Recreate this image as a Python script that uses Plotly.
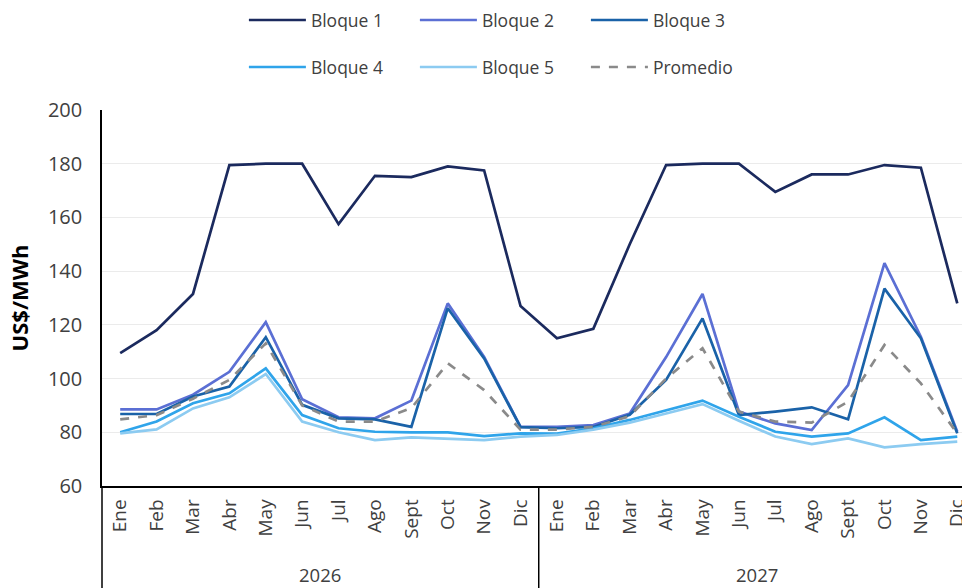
import plotly.graph_objects as go

# Monthly marginal cost projection by demand block, 2026-2027 (US$/MWh)
years = ["2026", "2027"]
months = ["Ene", "Feb", "Mar", "Abr", "May", "Jun", "Jul", "Ago", "Sept", "Oct", "Nov", "Dic"]

bloque_1 = [109.5, 118.0, 131.5, 179.5, 180.0, 180.0, 157.5, 175.5, 175.0, 179.0, 177.5, 127.0,
            115.0, 118.5, 150.0, 179.5, 180.0, 180.0, 169.5, 176.0, 176.0, 179.5, 178.5, 128.0]
bloque_2 = [88.5, 88.5, 94.0, 102.5, 121.0, 92.3, 85.6, 85.2, 91.8, 128.0, 108.1, 82.0,
            82.0, 82.7, 87.0, 108.0, 131.5, 87.7, 83.3, 80.8, 97.6, 143.0, 115.6, 80.2]
bloque_3 = [86.8, 86.8, 93.3, 97.0, 115.4, 90.2, 85.2, 84.8, 82.0, 126.2, 107.5, 81.9,
            81.5, 82.0, 86.5, 99.5, 122.4, 86.4, 87.7, 89.3, 84.8, 133.5, 115.0, 79.6]
bloque_4 = [80.0, 84.0, 90.8, 94.5, 103.8, 86.4, 81.5, 80.2, 80.0, 80.0, 78.6, 79.6,
            79.5, 81.5, 84.6, 88.3, 91.8, 85.8, 80.2, 78.4, 79.6, 85.6, 77.1, 78.4]
bloque_5 = [79.6, 81.1, 88.9, 93.0, 101.7, 84.0, 80.0, 77.1, 78.1, 77.7, 77.1, 78.4,
            79.0, 81.0, 83.6, 87.0, 90.5, 84.3, 78.4, 75.6, 77.7, 74.4, 75.6, 76.5]
promedio = [84.8, 86.4, 92.5, 99.5, 113.1, 90.0, 84.0, 84.0, 89.0, 105.7, 95.7, 81.0,
            81.0, 82.0, 86.0, 100.0, 111.3, 87.7, 84.0, 83.6, 91.4, 112.5, 98.2, 79.6]

series = [
    ("Bloque 1", bloque_1, "#1b2a5e", "solid", "legend"),
    ("Bloque 2", bloque_2, "#5b6fd4", "solid", "legend"),
    ("Bloque 3", bloque_3, "#1a62a8", "solid", "legend"),
    ("Bloque 4", bloque_4, "#2fa4ea", "solid", "legend2"),
    ("Bloque 5", bloque_5, "#8ccbf1", "solid", "legend2"),
    ("Promedio", promedio, "#8a8a8a", "dash", "legend2"),
]

n = len(years) * len(months)
idx = list(range(n))
tick_text = months * len(years)

FONT = "Open Sans, Noto Sans, sans-serif"
TXT = "#404040"

fig = go.Figure()
for name, vals, color, dash, leg in series:
    fig.add_trace(go.Scatter(
        x=idx, y=vals, name=name, mode="lines",
        line=dict(color=color, width=2.7, dash=dash),
        legend=leg,
    ))

x_min, x_max = -0.5, 23.13
span = x_max - x_min

# year group separators below the category axis
shapes = [dict(type="line", xref="paper", yref="paper", x0=0, x1=0, y0=-0.272, y1=0,
               line=dict(color="#000000", width=1.5))]
for g in range(1, len(years)):
    xp = (g * len(months) - 0.5 - x_min) / span
    shapes.append(dict(type="line", xref="paper", yref="paper", x0=xp, x1=xp, y0=-0.272, y1=0,
                       line=dict(color="#000000", width=1.5)))

annotations = []
for g, yr in enumerate(years):
    annotations.append(dict(
        x=g * len(months) + (len(months) - 1) / 2, y=-0.236, xref="x", yref="paper",
        text=yr, showarrow=False, yanchor="middle",
        font=dict(family=FONT, size=18.5, color=TXT),
    ))

legend_common = dict(
    orientation="h", xanchor="left", yanchor="middle", x=0.165,
    font=dict(family=FONT, size=17.5, color=TXT),
    entrywidth=99, entrywidthmode="pixels", bgcolor="rgba(0,0,0,0)",
    itemwidth=57,
)

fig.update_layout(
    width=962, height=588,
    margin=dict(l=102, r=0, t=110, b=102, autoexpand=False),
    paper_bgcolor="white", plot_bgcolor="white",
    font=dict(family=FONT, size=16, color=TXT),
    showlegend=True,
    legend=dict(legend_common, y=1.239),
    legend2=dict(legend_common, y=1.114),
    shapes=shapes,
    annotations=annotations,
    xaxis=dict(
        range=[x_min, x_max], tickmode="array", tickvals=idx, ticktext=tick_text,
        tickangle=-90, showgrid=False, zeroline=False, automargin=False,
        showline=True, linecolor="#000000", linewidth=1.5,
        tickfont=dict(family=FONT, size=19, color=TXT), ticks="",
        ticklabelstandoff=4, ticklabeloverflow="allow",
    ),
    yaxis=dict(
        range=[60, 200], dtick=20, tick0=60, automargin=False,
        showgrid=True, gridcolor="#ebebeb", gridwidth=1, zeroline=False,
        showline=True, linecolor="#000000", linewidth=1.5,
        tickfont=dict(family=FONT, size=20, color=TXT), ticks="",
        ticklabelstandoff=14,
        title=dict(text="<b>US$/MWh</b>", font=dict(family=FONT, size=22, color="#000000"),
                   standoff=13),
    ),
)

fig.write_html("out.html")
